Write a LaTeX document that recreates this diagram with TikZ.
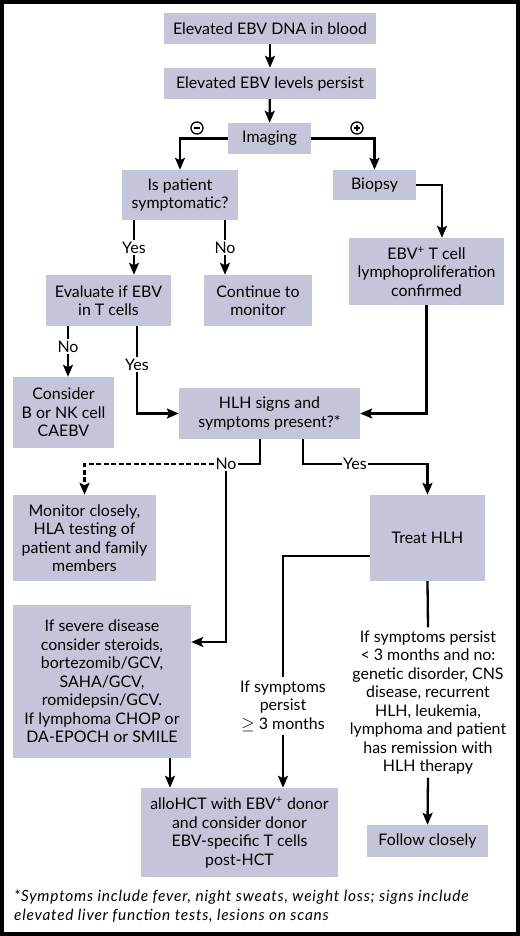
\documentclass[tikz,border=0pt]{standalone}
\usepackage{fontspec}
\setmainfont{Lato}
\usetikzlibrary{arrows.meta,calc}
\definecolor{boxc}{RGB}{196,197,216}
\begin{document}
\begin{tikzpicture}[x=1bp,y=-1bp,
  box/.style={fill=boxc,inner sep=0pt,align=center,font=\fontsize{16}{18.6}\selectfont},
  lab/.style={fill=white,inner sep=1.5bp,font=\fontsize{16}{18.6}\selectfont},
  txt/.style={inner sep=3bp,align=center,font=\fontsize{16}{18.6}\selectfont},
  conn/.style={line width=2.3bp,-{Stealth[length=12bp,width=10bp,inset=2.5bp]}},
  ln/.style={line width=2.3bp},
  sign/.style={circle,draw,line width=1.3bp,minimum size=12bp,inner sep=0pt}]
\useasboundingbox (0,0) rectangle (520,936);
\draw[line width=4bp] (2,2) rectangle (518,934);

% boxes
\node[box,minimum width=212bp,minimum height=31bp] (b1) at (270,28.5) {Elevated EBV DNA in blood};
\node[box,minimum width=212bp,minimum height=31bp] (b2) at (270,83.5) {Elevated EBV levels persist};
\node[box,minimum width=83bp,minimum height=31bp] (img) at (269.5,138.5) {Imaging};
\node[box,minimum width=116bp,minimum height=50bp] (pat) at (180,195) {Is patient\\symptomatic?};
\node[box,minimum width=83bp,minimum height=30bp] (bio) at (374.5,185) {Biopsy};
\node[box,minimum width=155bp,minimum height=67bp] (ebvt) at (426.5,271.5) {EBV\textsuperscript{+} T cell\\lymphoproliferation\\confirmed};
\node[box,minimum width=125bp,minimum height=51bp] (eval) at (108.5,300.5) {Evaluate if EBV\\in T cells};
\node[box,minimum width=108bp,minimum height=51bp] (cont) at (258,300.5) {Continue to\\monitor};
\node[box,minimum width=101bp,minimum height=71bp] (cons) at (63.5,412.5) {Consider\\B or NK cell\\CAEBV};
\node[box,minimum width=181bp,minimum height=51bp] (hlh) at (269.5,413.5) {HLH signs and\\symptoms present?*};
\node[box,minimum width=143bp,minimum height=86bp] (mon) at (84.5,538) {Monitor closely,\\HLA testing of\\patient and family\\members};
\node[box,minimum width=115bp,minimum height=86bp] (treat) at (427.5,538) {Treat HLH};
\node[box,minimum width=178bp,minimum height=153bp] (sev) at (102,681.5) {If severe disease\\consider steroids,\\bortezomib/GCV,\\SAHA/GCV,\\romidepsin/GCV.\\If lymphoma CHOP or\\DA-EPOCH or SMILE};
\node[box,minimum width=197bp,minimum height=89bp] (allo) at (239.5,832.5) {alloHCT with EBV\textsuperscript{+} donor\\and consider donor\\EBV-specific T cells\\post-HCT};
\node[box,minimum width=121bp,minimum height=32bp] (fol) at (427.5,841) {Follow closely};

% free texts
\node[txt] (t1) at (283,706) {If symptoms\\persist\\$\geq$ 3 months};
\node[txt] (t2) at (428,702.5) {If symptoms persist\\< 3 months and no:\\genetic disorder, CNS\\disease, recurrent\\HLH, leukemia,\\lymphoma and patient\\has remission with\\HLH therapy};
\node[anchor=west,inner sep=0pt,align=left,font=\itshape\addfontfeatures{LetterSpace=5}\fontsize{15.5}{19}\selectfont] (fn) at (14,906.5) {*Symptoms include fever, night sweats, weight loss; signs include\\elevated liver function tests, lesions on scans};

% sign labels
\node[sign] (minus) at (197,128) {};
\draw[line width=1.3bp] ([xshift=-3bp]minus.center) -- ([xshift=3bp]minus.center);
\node[sign] (plus) at (357,128) {};
\draw[line width=1.3bp] ([xshift=-3bp]plus.center) -- ([xshift=3bp]plus.center);
\draw[line width=1.3bp] ([yshift=-3bp]plus.center) -- ([yshift=3bp]plus.center);

% connectors
\draw[conn] (b1) -- (b2);
\draw[conn] (b2) -- (img);
\draw[conn] (img.west) -| (pat.north);
\draw[conn] (img.east) -| (bio.north);
\coordinate (ebvin) at ([xshift=15.5bp]ebvt.north);
\draw[conn] (bio.east) -| (ebvin);

\coordinate (py) at ([xshift=-46bp]pat.south);
\coordinate (pn) at ([xshift=45bp]pat.south);
\draw[conn] (py) -- node[lab] (yes1) {Yes} (py |- eval.north);
\draw[conn] (pn) -- node[lab] (no1) {No} (pn |- cont.north);

\coordinate (en) at (eval.south -| 68,0);
\draw[conn] (en) -- node[lab,pos=0.4] (no2) {No} (en |- cons.north);
\coordinate (ey) at ([xshift=28.5bp]eval.south);
\draw[conn] (ey) |- node[lab,pos=0.22] (yes2) {Yes} (hlh.west);
\draw[conn] (ebvt.south) |- (hlh.east);

\node[lab] (nolab) at (226,464) {No};
\node[lab] (yeslab) at (355,464) {Yes};
\draw[ln] ([xshift=-9.5bp]hlh.south) |- (nolab.east);
\draw[conn,dash pattern=on 5bp off 2.5bp] (nolab.west) -| (mon.north);
\coordinate (sevin) at (sev.east |- 0,642);
\draw[conn] (nolab.south) |- (sevin);
\draw[ln] ([xshift=33.5bp]hlh.south) |- (yeslab.west);
\draw[conn] (yeslab.east) -| (treat.north);

\coordinate (tw) at (treat.west |- 0,556);
\draw[ln] (tw) -| (t1.north);
\draw[conn] (t1.south) -- (t1.south |- allo.north);
\draw[ln] (treat.south) -- (t2.north);
\draw[conn] (t2.south) -- (fol.north);
\coordinate (s1) at ([xshift=68bp]sev.south);
\draw[conn] (s1) -- (s1 |- allo.north);
\end{tikzpicture}
\end{document}
